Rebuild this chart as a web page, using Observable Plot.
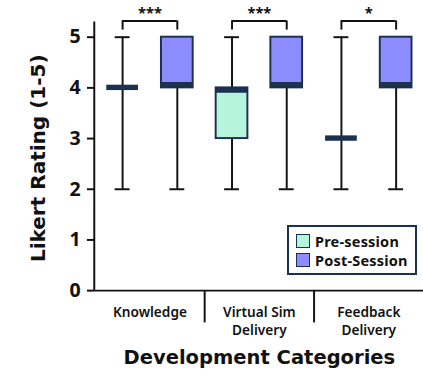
<!DOCTYPE html>
<html><head><meta charset="utf-8">
<script src="https://cdn.jsdelivr.net/npm/d3@7"></script>
<script src="https://cdn.jsdelivr.net/npm/@observablehq/plot@0.6"></script>
<style>
body{margin:0;background:#fff;font-family:"Noto Sans",sans-serif;}
#wrap{position:relative;width:423px;height:382px;overflow:hidden;background:#fff;}
#legend{position:absolute;left:287px;top:225px;width:126px;height:46px;border:2px solid #1c3050;background:#fff;box-sizing:content-box;padding:0;}
.row{position:absolute;left:7px;display:flex;align-items:center;font-size:14.5px;font-weight:700;color:#111;letter-spacing:0.2px;}
.sw{width:12px;height:12px;border:1.5px solid #1c3050;margin-right:5px;}
</style></head><body>
<div id="wrap"><div id="chart"></div>
<div id="legend">
  <div class="row" style="top:4px"><div class="sw" id="sw0"></div><span id="lg0"></span></div>
  <div class="row" style="top:23px"><div class="sw" id="sw1"></div><span id="lg1"></span></div>
</div>
</div>
<script>
const categories = ["Knowledge", "Virtual Sim\nDelivery", "Feedback\nDelivery"];
const sessions = ["Pre-session", "Post-Session"];
const colors = ["#b4f5dc", "#8c8cff"];
const significance = ["***", "***", "*"];
const yTicks = [0, 1, 2, 3, 4, 5];

// box statistics per category: [pre, post]
const minVals    = [[2, 2], [2, 2], [2, 2]];
const q1Vals     = [[4, 4], [3, 4], [3, 4]];
const medianVals = [[4, 4], [4, 4], [3, 4]];
const q3Vals     = [[4, 5], [4, 5], [3, 5]];
const maxVals    = [[5, 5], [5, 5], [5, 5]];

const navy = "#1c3050";
const pxPerUnit = 275 / 5.3;
const pxPerX = 112;
const boxHalf = 0.145, capHalf = 0.068;
const medPx = 5.5 / pxPerUnit;

const rows = [];
categories.forEach((c, i) => sessions.forEach((s, j) => {
  rows.push({cat: c, session: s, pos: i + (j === 0 ? 0.25 : 0.75),
    min: minVals[i][j], q1: q1Vals[i][j], med: medianVals[i][j], q3: q3Vals[i][j], max: maxVals[i][j], color: colors[j]});
}));
rows.forEach(d => {
  if (d.med === d.q1 && d.q3 > d.q1) { d.m1 = d.med; d.m2 = d.med + medPx; }
  else if (d.med === d.q3 && d.q3 > d.q1) { d.m1 = d.med - medPx; d.m2 = d.med; }
  else { d.m1 = d.med - medPx / 2; d.m2 = d.med + medPx / 2; }
});
const catRows = categories.map((c, i) => ({cat: c, i, sig: significance[i]}));
const bracketY = 5.32, bracketLow = 5.14, starY = 5.47;

const chart = Plot.plot({
  width: 433, height: 382,
  marginLeft: 97, marginRight: 0, marginTop: 22, marginBottom: 85,
  x: {type: "linear", domain: [0, 3], axis: null},
  y: {type: "linear", domain: [0, 5.3], axis: null},
  style: {fontFamily: "Noto Sans, sans-serif", background: "#fff"},
  marks: [
    // axes lines
    Plot.ruleY([0], {stroke: "#111", strokeWidth: 2}),
    Plot.ruleX([0], {stroke: "#111", strokeWidth: 2, dx: -1}),
    Plot.ruleY(yTicks, {y: d => d, x1: -8 / pxPerX, x2: 0, stroke: "#111", strokeWidth: 2}),
    Plot.text(yTicks, {y: d => d, frameAnchor: "left", text: d => String(d), textAnchor: "end", dx: -15, fontSize: 20, fontWeight: 700, fill: "#111"}),
    // separators
    Plot.ruleX([1, 2], {x: d => d, y1: 0, y2: -33 / pxPerUnit, stroke: "#111", strokeWidth: 2}),
    // category labels
    Plot.text(catRows, {x: d => d.i + 0.5, y: 0, text: "cat", lineAnchor: "top", dy: 13, fontSize: 14, fontWeight: 600, lineHeight: 1.36, fill: "#111"}),
    // whiskers
    Plot.ruleX(rows, {x: "pos", y1: "min", y2: "max", stroke: "#111", strokeWidth: 2}),
    Plot.ruleY(rows, {y: "min", x1: d => d.pos - capHalf, x2: d => d.pos + capHalf, stroke: "#111", strokeWidth: 2}),
    Plot.ruleY(rows, {y: "max", x1: d => d.pos - capHalf, x2: d => d.pos + capHalf, stroke: "#111", strokeWidth: 2}),
    // boxes
    Plot.rect(rows.filter(d => d.q3 > d.q1), {x1: d => d.pos - boxHalf, x2: d => d.pos + boxHalf, y1: "q1", y2: "q3", fill: "color", stroke: navy, strokeWidth: 2}),
    // medians
    Plot.rect(rows, {x1: d => d.pos - boxHalf, x2: d => d.pos + boxHalf, y1: "m1", y2: "m2", fill: navy}),
    // significance brackets
    Plot.ruleY(catRows, {y: bracketY, x1: d => d.i + 0.25, x2: d => d.i + 0.75, stroke: "#111", strokeWidth: 2}),
    Plot.ruleX(catRows, {x: d => d.i + 0.25, y1: bracketLow, y2: bracketY, stroke: "#111", strokeWidth: 2}),
    Plot.ruleX(catRows, {x: d => d.i + 0.75, y1: bracketLow, y2: bracketY, stroke: "#111", strokeWidth: 2}),
    Plot.text(catRows, {x: d => d.i + 0.5, y: starY, text: "sig", fontSize: 15, fontWeight: 700, fill: "#111"}),
    // axis titles
    Plot.text(["Likert Rating (1-5)"], {frameAnchor: "left", text: d => d, textAnchor: "middle", lineAnchor: "middle", rotate: -90, dx: -58, dy: 2, fontSize: 20.5, fontWeight: 700, fontFamily: "DejaVu Sans", fill: "#111"}),
    Plot.text(["Development Categories"], {frameAnchor: "bottom", text: d => d, textAnchor: "middle", lineAnchor: "middle", dy: 69, fontSize: 20, fontWeight: 700, fontFamily: "DejaVu Sans", fill: "#111"})
  ]
});
document.getElementById("chart").appendChild(chart);
sessions.forEach((s, j) => {
  document.getElementById("lg" + j).textContent = s;
  document.getElementById("sw" + j).style.background = colors[j];
});
</script>
</body></html>
